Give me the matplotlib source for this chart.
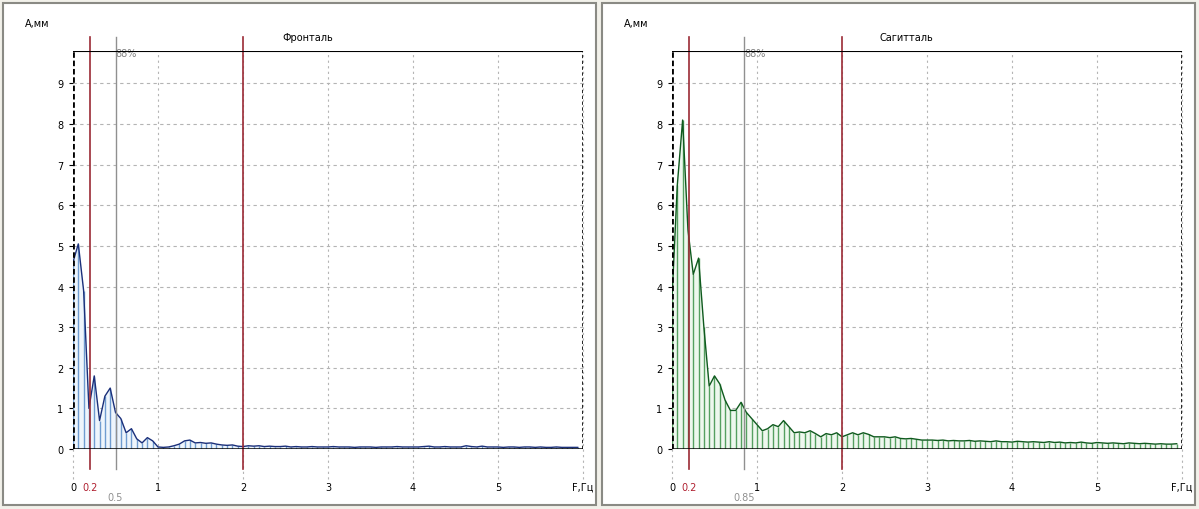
import numpy as np
import matplotlib.pyplot as plt
from matplotlib.patches import Rectangle

df = 0.0625  # spectrum step, Hz

# Фронталь amplitudes, mm
front = [4.6, 5.05, 3.9, 1.0, 1.8, 0.7, 1.3, 1.5, 0.9, 0.75, 0.4, 0.5, 0.25, 0.15, 0.28, 0.2,
         0.05, 0.04, 0.05, 0.08, 0.12, 0.2, 0.22, 0.15, 0.16, 0.14, 0.15, 0.12, 0.1, 0.09, 0.1, 0.07,
         0.06, 0.08, 0.07, 0.08, 0.06, 0.07, 0.06, 0.06, 0.07, 0.05, 0.06, 0.05, 0.05, 0.06, 0.05, 0.05,
         0.05, 0.06, 0.05, 0.05, 0.05, 0.04, 0.05, 0.05, 0.05, 0.04, 0.05, 0.05, 0.05, 0.06, 0.05, 0.05,
         0.05, 0.05, 0.06, 0.07, 0.05, 0.05, 0.06, 0.05, 0.05, 0.05, 0.08, 0.06, 0.05, 0.07, 0.05, 0.05,
         0.05, 0.04, 0.05, 0.05, 0.04, 0.05, 0.05, 0.04, 0.05, 0.04, 0.04, 0.05, 0.04, 0.04, 0.04, 0.04]

# Сагитталь amplitudes, mm
sagit = [3.7, 6.5, 8.1, 5.4, 4.3, 4.7, 3.0, 1.55, 1.8, 1.6, 1.2, 0.95, 0.95, 1.15, 0.9, 0.75,
         0.6, 0.45, 0.5, 0.6, 0.55, 0.7, 0.55, 0.4, 0.42, 0.4, 0.45, 0.38, 0.3, 0.38, 0.35, 0.4,
         0.3, 0.35, 0.4, 0.35, 0.4, 0.36, 0.3, 0.3, 0.3, 0.28, 0.3, 0.26, 0.25, 0.26, 0.24, 0.22,
         0.22, 0.22, 0.21, 0.22, 0.2, 0.21, 0.2, 0.2, 0.21, 0.19, 0.2, 0.19, 0.18, 0.2, 0.18, 0.18,
         0.17, 0.19, 0.18, 0.17, 0.18, 0.17, 0.16, 0.18, 0.16, 0.17, 0.15, 0.16, 0.15, 0.17, 0.15, 0.14,
         0.16, 0.15, 0.14, 0.15, 0.14, 0.13, 0.15, 0.14, 0.13, 0.14, 0.13, 0.12, 0.13, 0.12, 0.12, 0.13]

panels = [
    dict(title="Фронталь", amp=front, line="#1a2f7a", bar="#4f86c6", fill="#eef5fc",
         pct="88%", f88=0.5, f88_lbl="0.5", x0=73),
    dict(title="Сагитталь", amp=sagit, line="#0f5a1e", bar="#2f8a3c", fill="#eef8ee",
         pct="88%", f88=0.85, f88_lbl="0.85", x0=672),
]
band = [0.2, 2]
xt = [1, 2, 3, 4, 5]
yt = list(range(10))

W, H = 1199, 510
fig = plt.figure(figsize=(W / 100, H / 100), dpi=100)
fig.patch.set_facecolor("#f2f1ea")
plt.rcParams['font.family'] = ['DejaVu Sans']
fs = 7

# panel frames
for fx in [3, 602]:
    fig.patches.append(Rectangle((fx / W, 4 / H), 593 / W, 502 / H, transform=fig.transFigure,
                                 facecolor="white", edgecolor="#8a8a84", lw=1.5, zorder=-10))

ymax = 9.8
for p in panels:
    ax = fig.add_axes([p["x0"] / W, 60 / H, 510 / W, 398 / H])
    ax.set_facecolor("none")
    f = np.arange(len(p["amp"])) * df
    a = np.array(p["amp"])
    ax.set_xlim(0, 6)
    ax.set_ylim(0, ymax)

    # grid
    for x in xt + [6]:
        ax.plot([x, x], [-0.75, ymax], ls=(0, (2, 3)), color="#b4b4b4", lw=0.8, clip_on=False, zorder=1)
    ax.plot([0, 0], [-0.75, 0], ls=(0, (2, 3)), color="#b4b4b4", lw=0.8, clip_on=False, zorder=1)
    for y in yt[1:]:
        ax.axhline(y, ls=(0, (3, 3)), color="#b4b4b4", lw=0.8, zorder=1)

    # spectrum
    ax.fill_between(f, 0, a, color=p["fill"], lw=0, zorder=2)
    ax.vlines(f, 0, a, color=p["bar"], lw=1.0, alpha=0.8, zorder=3)
    ax.plot(f, a, color=p["line"], lw=1.0, zorder=4)

    # band and 88% lines
    for b in band:
        ax.plot([b, b], [-0.5, 10.15], color="#9b2a35", lw=1.2, clip_on=False, zorder=5)
    ax.plot([p["f88"], p["f88"]], [-0.5, 10.15], color="#909090", lw=1.0, clip_on=False, zorder=5)
    ax.text(p["f88"], ymax - 0.05, p["pct"], fontsize=fs, color="#808080", ha="left", va="center")

    # axes lines
    for s in ["top", "bottom", "left", "right"]:
        ax.spines[s].set_visible(False)
    ax.axhline(ymax, color="black", lw=0.8, zorder=6)
    ax.axhline(0, color="black", lw=1.8, zorder=6)
    ax.axvline(0, color="black", lw=2.0, ls=(0, (2, 1)), zorder=6)
    ax.axvline(6, color="black", lw=1.2, ls=(0, (2, 1.5)), zorder=6)

    ax.set_yticks(yt)
    ax.set_yticklabels([str(v) for v in yt], fontsize=fs)
    ax.tick_params(axis="y", length=3, width=0.8, pad=4)
    ax.set_xticks([])

    tr = ax.get_xaxis_transform()
    ylab = -0.095
    ax.text(0, ylab, "0", transform=tr, fontsize=fs, ha="center", va="center")
    ax.text(band[0], ylab, "0.2", transform=tr, fontsize=fs, ha="center", va="center", color="#b02030")
    ax.text(p["f88"], ylab - 0.025, p["f88_lbl"], transform=tr, fontsize=fs, ha="center", va="center",
            color="#909090")
    for x in xt:
        ax.text(x, ylab, str(x), transform=tr, fontsize=fs, ha="center", va="center")
    ax.text(6, ylab, "F,Гц", transform=tr, fontsize=fs, ha="center", va="center")

    ax.text(0.46, 1.035, p["title"], transform=ax.transAxes, fontsize=fs, ha="center", va="center")
    ax.text(-0.095, 1.07, "A,мм", transform=ax.transAxes, fontsize=fs, ha="left", va="center")

fig.savefig("out.png", dpi=100, facecolor=fig.get_facecolor())
